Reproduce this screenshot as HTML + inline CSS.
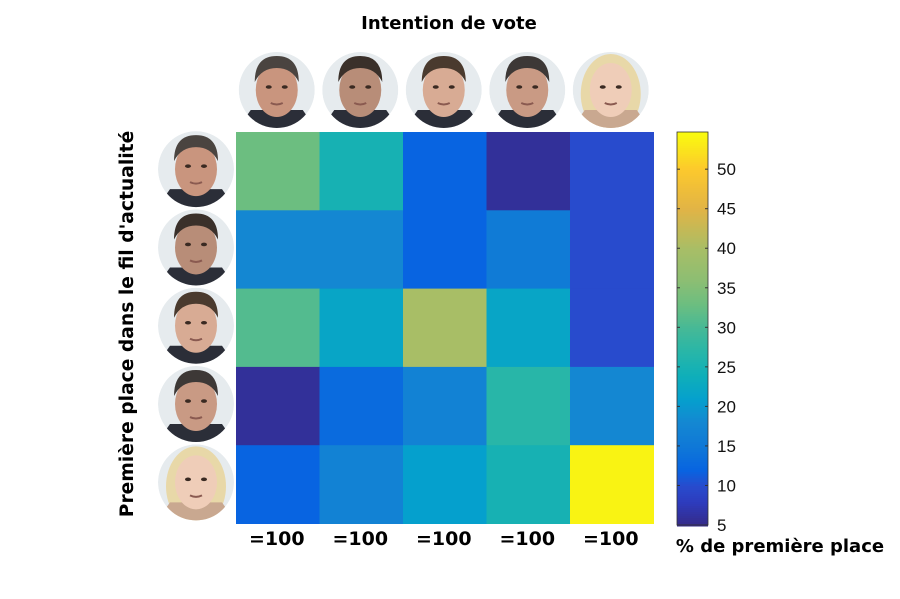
<!DOCTYPE html>
<html><head><meta charset="utf-8"><style>
body{margin:0;background:#fff;width:900px;height:594px;overflow:hidden;font-family:"Liberation Sans",sans-serif}
.b{font-family:"DejaVu Sans","Liberation Sans",sans-serif;font-weight:bold}
</style></head><body>
<svg id="chart" width="900" height="594">
<defs><clipPath id="cp"><circle cx="0" cy="0" r="38"/></clipPath></defs>
<text class="b" x="449" y="29" text-anchor="middle" font-size="18">Intention de vote</text>
<text class="b" transform="translate(133,324) rotate(-90)" text-anchor="middle" font-size="18.7">Première place dans le fil d'actualité</text>
<text class="b" x="780" y="552" text-anchor="middle" font-size="18">% de première place</text>
<g id="cells"></g><g id="faces"></g><g id="cbar"></g>
</svg>
<script>
const candidates=["Mélenchon","Hamon","Macron","Fillon","Le Pen"];
const row1=[33,25,12,6,10];
const row2=[18,18,12,15.5,10];
const row3=[31,22,40,22,10];
const row4=[6,13,17,27,18];
const row5=[12,17,21,25,54];
const rows=[row1,row2,row3,row4,row5];
const colTotals=["=100","=100","=100","=100","=100"];
const cbTicks=[5,10,15,20,25,30,35,40,45,50];
const vmin=5,vmax=54.7;
const X0=236,Y0=132,CW=83.5,CH=78.3;
const xPos=i=>X0+i*CW, yPos=j=>Y0+j*CH;
const CBX=677,CBW=31,CBT=132,CBB=525;
const cbY=v=>CBB-(v-vmin)/(vmax-vmin)*(CBB-CBT);
const CM=[[5,53,42,135],[8,45,60,190],[10,40,75,205],[12,8,100,225],[15,15,120,215],[18,20,135,210],[21,5,160,205],[24,15,175,185],[27,40,182,168],[30,70,185,150],[33,108,190,128],[36,140,190,115],[40,168,190,102],[45,225,180,70],[50,252,200,45],[54.7,249,251,14]];
function parula(v){v=Math.max(vmin,Math.min(vmax,v));let i=0;while(i<CM.length-2&&v>CM[i+1][0])i++;
const a=CM[i],b=CM[i+1],f=(v-a[0])/(b[0]-a[0]);return `rgb(${[1,2,3].map(k=>Math.round(a[k]+(b[k]-a[k])*f))})`;}
const NS="http://www.w3.org/2000/svg";
function mk(tag,attrs,parent){const e=document.createElementNS(NS,tag);for(const k in attrs)e.setAttribute(k,attrs[k]);parent.appendChild(e);return e;}
const cells=document.getElementById('cells');
rows.forEach((r,j)=>r.forEach((v,i)=>{
 const e=mk('rect',{x:xPos(i),y:yPos(j),width:CW+0.5,height:CH+0.5,fill:parula(v)},cells);
 
 
}));
colTotals.forEach((t,i)=>{
 const e=mk('text',{x:xPos(i)+CW/2-1,y:545,'text-anchor':'middle','font-size':19,class:'b'},cells);e.textContent=t;
 
 
});
const skins=['#c9957e','#b88d78','#d8ab94','#c99a84','#efcdb8'];
const hairs=['#4a4440','#3a302a','#4a3a2e','#3d3836','#e8d8a8'];
const faces=document.getElementById('faces');
function face(cx,cy,k,name){
 const g=mk('g',{transform:`translate(${cx},${cy})`},faces);
 
 
 const g2=mk('g',{'clip-path':'url(#cp)'},g);
 mk('circle',{cx:0,cy:0,r:38,fill:'#e6ebee'},g2);
 if(k===4) mk('ellipse',{cx:0,cy:4,rx:30,ry:40,fill:hairs[k]},g2);
 mk('path',{d:'M-40 40 L-26 20 L26 20 L40 40 Z',fill:k===4?'#c9a890':'#2b2e38'},g2);
 mk('ellipse',{cx:0,cy:0,rx:21,ry:27,fill:skins[k]},g2);
 if(k!==4) mk('path',{d:'M-22 -8 Q-22 -34 0 -34 Q22 -34 22 -8 Q15 -22 0 -22 Q-15 -22 -22 -8Z',fill:hairs[k]},g2);
 mk('ellipse',{cx:-8,cy:-3,rx:3,ry:1.8,fill:'#3a2a22'},g2);mk('ellipse',{cx:8,cy:-3,rx:3,ry:1.8,fill:'#3a2a22'},g2);
 mk('path',{d:'M-6 13 Q0 16 6 13',stroke:'#8a5a50','stroke-width':2,fill:'none'},g2);
}
candidates.forEach((c,i)=>face(xPos(i)+CW/2-1,90,i,'column-face-'+(i+1)));
candidates.forEach((c,j)=>face(196,yPos(j)+CH/2-2,j,'row-face-'+(j+1)));
const cb=document.getElementById('cbar');
for(let y=CBT;y<CBB;y+=2){mk('rect',{x:CBX,y:y,width:CBW,height:2.5,fill:parula(vmin+(CBB-y)/(CBB-CBT)*(vmax-vmin))},cb);}
const fr=mk('rect',{x:CBX,y:CBT,width:CBW,height:CBB-CBT,fill:'none',stroke:'#333','stroke-width':0.8},cb);


cbTicks.forEach(v=>{
 const y=cbY(v);
 mk('line',{x1:CBX,x2:CBX+3,y1:y,y2:y,stroke:'#333'},cb);mk('line',{x1:CBX+CBW-3,x2:CBX+CBW,y1:y,y2:y,stroke:'#333'},cb);
 const t=mk('text',{x:717,y:y+6,'font-size':17,fill:'#111'},cb);t.textContent=v;
 
 
});
</script>
</body></html>
